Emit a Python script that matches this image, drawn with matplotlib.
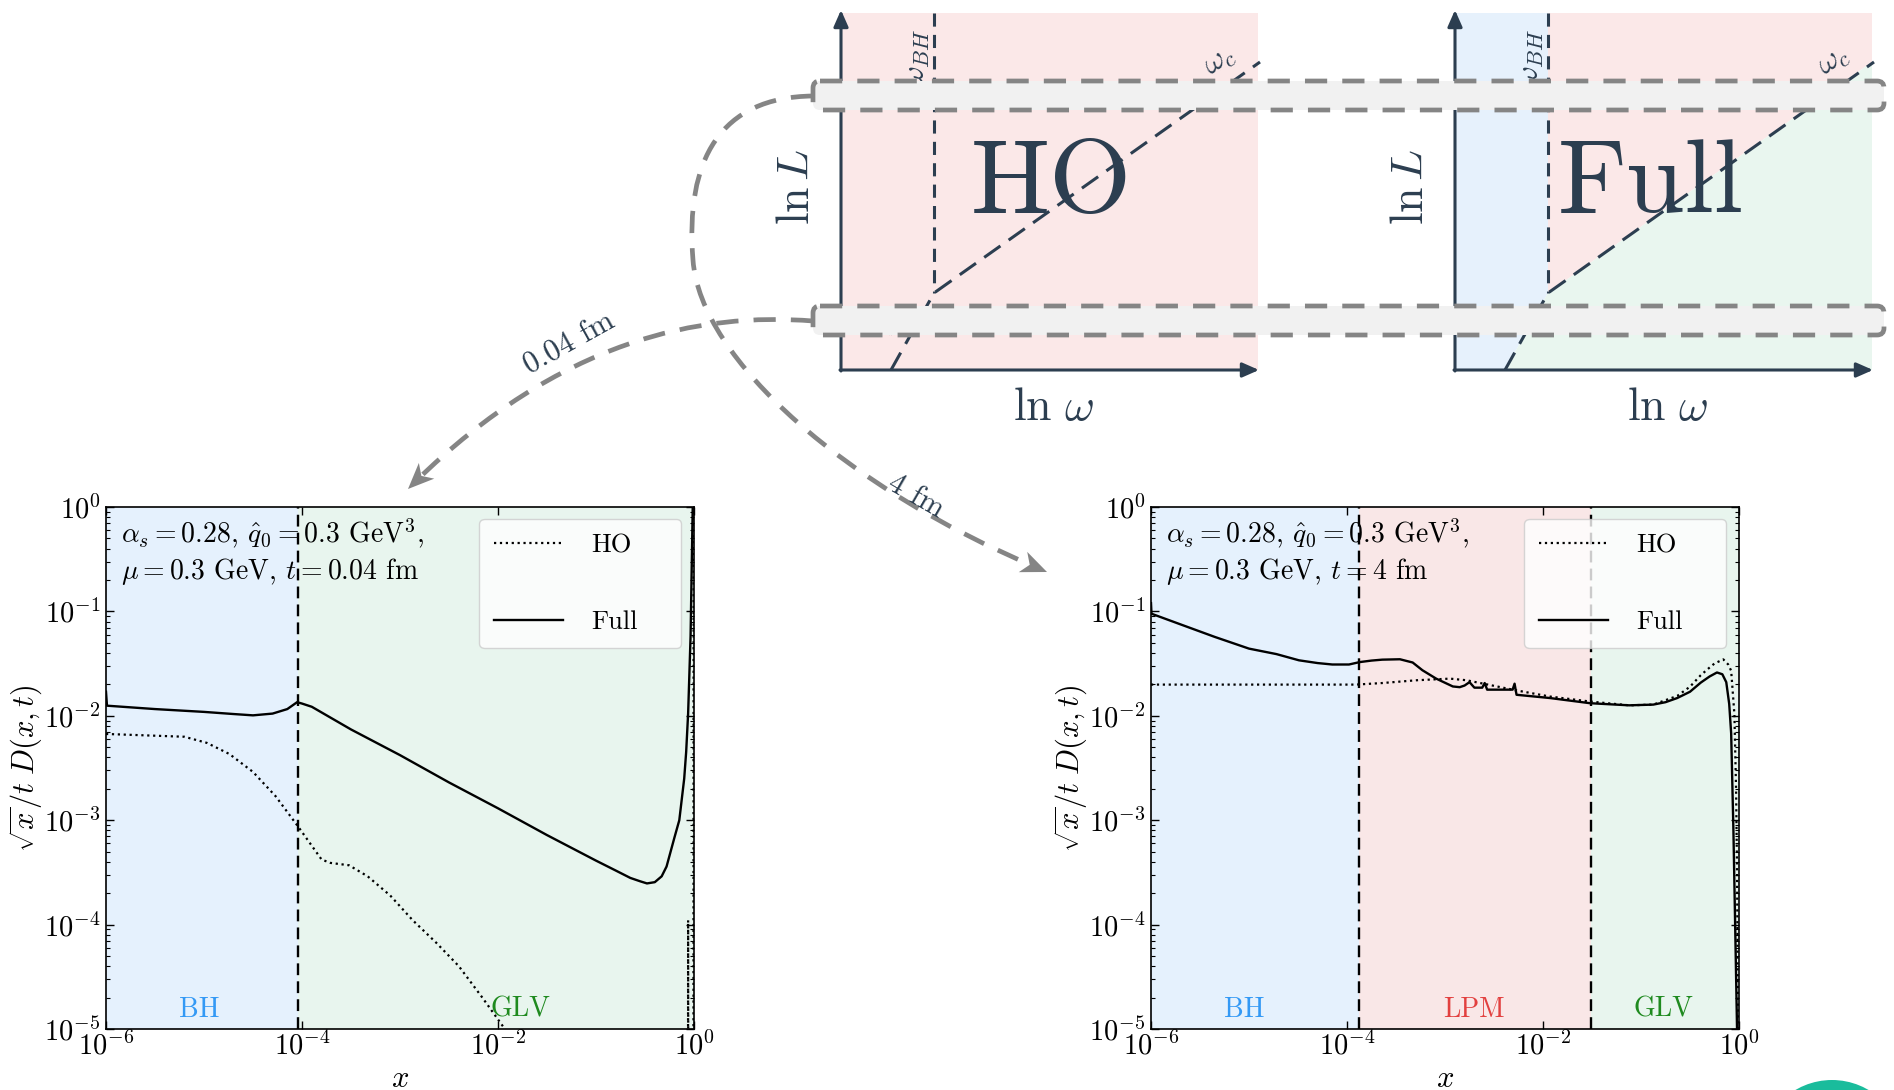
import numpy as np
import matplotlib
matplotlib.use("Agg")
import matplotlib.pyplot as plt
from matplotlib.patches import FancyBboxPatch, Polygon, PathPatch, Circle
from matplotlib.path import Path
from matplotlib.ticker import FixedLocator, LogLocator, FuncFormatter, NullLocator, NullFormatter

plt.rcParams["font.family"] = "serif"
plt.rcParams["font.serif"] = ["cmr10"]
plt.rcParams["mathtext.fontset"] = "cm"
plt.rcParams["axes.formatter.use_mathtext"] = True
plt.rcParams["axes.unicode_minus"] = False

# ---- spectra, log10(x) and sqrt(x)/t D(x,t) ----
# t = 0.04 fm
lx_full_short = [-6.0, -5.99, -5.5, -5.0, -4.7, -4.5, -4.3, -4.15, -4.05, -4.0, -3.9, -3.5, -3.0,
                 -2.5, -2.0, -1.5, -1.0, -0.8, -0.65, -0.55, -0.48, -0.4, -0.33, -0.28, -0.2,
                 -0.15, -0.1, -0.08, -0.06, -0.035, -0.01]
full_short = [0.017, 0.0125, 0.0116, 0.0109, 0.0104, 0.0101, 0.0105, 0.0116, 0.0135, 0.0131, 0.0122,
              0.0074, 0.0042, 0.0023, 0.0013, 0.00072, 0.00041, 0.00033, 0.00028, 0.00026, 0.000248,
              0.000255, 0.00029, 0.00036, 0.00068, 0.001, 0.0025, 0.0045, 0.0105, 0.058, 1.5]
lx_ho_short = [-6.0, -5.2, -4.97, -4.74, -4.5, -4.27, -4.04, -3.8, -3.71, -3.52, -3.33, -3.1, -2.87,
               -2.63, -2.4, -2.16, -1.93, -1.5, -0.5, -0.062, -0.06, -0.058, -0.006, -0.004]
ho_short = [6.7e-3, 6.3e-3, 5.5e-3, 4.3e-3, 2.9e-3, 1.7e-3, 8.7e-4, 4.2e-4, 3.9e-4, 3.7e-4, 2.9e-4,
            1.9e-4, 1.1e-4, 6.7e-5, 4.0e-5, 2.0e-5, 1.0e-5, 1e-6, 1e-7, 1e-7, 1.1e-4, 1e-7, 1e-7, 1.0]

# t = 4 fm
lx_full_long = [-6.0, -5.995, -5.68, -5.35, -5.0, -4.72, -4.49, -4.3, -4.15, -3.98, -3.87, -3.75,
                -3.64, -3.46, -3.33, -3.23, -3.09, -2.92, -2.85, -2.80, -2.75, -2.70, -2.62, -2.595,
                -2.57, -2.54, -2.31, -2.29, -2.27, -1.93, -1.52, -1.12, -0.875, -0.75, -0.63, -0.5,
                -0.39, -0.3, -0.225, -0.17, -0.13, -0.10, -0.08, -0.057, -0.035, -0.02, -0.005]
full_long = [0.12, 0.095, 0.074, 0.057, 0.044, 0.039, 0.034, 0.032, 0.031, 0.031, 0.0327, 0.0338,
             0.0345, 0.0348, 0.0324, 0.0273, 0.0227, 0.0191, 0.0188, 0.0195, 0.021, 0.0186, 0.0186,
             0.0206, 0.0178, 0.0178, 0.0178, 0.0203, 0.0159, 0.0148, 0.0132, 0.0126, 0.0128, 0.0135,
             0.0148, 0.017, 0.0208, 0.0238, 0.026, 0.025, 0.021, 0.013, 0.0068, 8e-4, 6e-5, 1e-5, 1e-6]
lx_ho_long = [-6.0, -3.91, -3.64, -3.29, -2.95, -2.78, -2.27, -1.93, -1.52, -1.12, -0.875, -0.63,
              -0.5, -0.39, -0.3, -0.25, -0.16, -0.11, -0.08, -0.047, -0.03, -0.02, -0.01, -0.002]
ho_long = [0.0199, 0.0199, 0.0206, 0.0219, 0.0227, 0.0219, 0.0175, 0.0153, 0.0137, 0.0126, 0.0128,
           0.0155, 0.019, 0.0245, 0.029, 0.0317, 0.0347, 0.031, 0.027, 0.0104, 2e-3, 3.4e-4, 1e-5, 1e-6]

# regime boundaries in x
bounds_short = [9.0e-5]
bounds_long = [1.34e-4, 0.0309]

x_ticks = [1e-6, 1e-4, 1e-2, 1.0]

BLUE_BG, PINK_BG, GREEN_BG = "#e5f1fd", "#f9e7e7", "#e8f5ee"
NAVY = "#2c3e50"
GRAY = "#858585"

W, H = 1894, 1090
fig = plt.figure(figsize=(W / 100, H / 100), dpi=100)
fig.patch.set_facecolor("white")

# overlay in pixel coordinates for the sketches, bands and arrows
ov = fig.add_axes([0, 0, 1, 1])
ov.set_xlim(0, W)
ov.set_ylim(H, 0)
ov.axis("off")

# sketch geometry (pixels)
D_TOP, D_BOT, D_W = 13, 370, 417
D_LEFT = [841, 1455]
BH_OFF, FOOT_OFF, KINK_Y, CORNER_Y = 93, 50, 293, 62


def sketch(x0, title, full):
    xr = x0 + D_W
    xbh = x0 + BH_OFF
    if not full:
        ov.add_patch(Polygon([(x0, D_TOP), (xr, D_TOP), (xr, D_BOT), (x0, D_BOT)],
                             fc="#fbe8e8", ec="none", zorder=1))
    else:
        ov.add_patch(Polygon([(x0, D_TOP), (xbh, D_TOP), (xbh, KINK_Y), (x0 + FOOT_OFF, D_BOT), (x0, D_BOT)],
                             fc="#e6f1fc", ec="none", zorder=1))
        ov.add_patch(Polygon([(xbh, D_TOP), (xr, D_TOP), (xr, CORNER_Y), (xbh, KINK_Y)],
                             fc="#fbe8e8", ec="none", zorder=1))
        ov.add_patch(Polygon([(x0 + FOOT_OFF, D_BOT), (xbh, KINK_Y), (xr, CORNER_Y), (xr, D_BOT)],
                             fc="#e9f6ef", ec="none", zorder=1))
    ov.plot([xbh, xbh], [D_TOP, KINK_Y], color=NAVY, lw=2.2, ls=(0, (4.3, 2.7)), zorder=2)
    ov.plot([x0 + FOOT_OFF, xbh, xr + 2], [D_BOT, KINK_Y, CORNER_Y], color=NAVY, lw=2.2,
            ls=(0, (6.5, 3.3)), zorder=2)
    arr = dict(arrowstyle="-|>,head_length=0.5,head_width=0.22", color=NAVY, lw=2.2,
               shrinkA=0, shrinkB=0, mutation_scale=20)
    ov.annotate("", xy=(x0, D_TOP - 3), xytext=(x0, D_BOT + 1), arrowprops=arr, zorder=3)
    ov.annotate("", xy=(xr + 1, D_BOT), xytext=(x0 - 1, D_BOT), arrowprops=arr, zorder=3)
    ov.text(x0 + D_W / 2 + 4, 408, r"$\ln\,\omega$", fontsize=33, color=NAVY, ha="center", va="center", zorder=3)
    ov.text(x0 - 44, 187, r"$\ln L$", fontsize=33, color=NAVY, rotation=90, ha="center", va="center", zorder=3)
    ov.text(x0 + 210 - (14 if full else 0), 186, title, fontsize=76, color=NAVY, ha="center", va="center", zorder=3)
    ov.text(xbh - 16, 58, r"$\omega_{BH}$", fontsize=23, color=NAVY, rotation=90, ha="center", va="center", zorder=3)
    ov.text(xr - 38, 62, r"$\omega_c$", fontsize=23, color=NAVY, rotation=35, ha="center", va="center", zorder=3)
    ov.text(x0 + 50, 324, r"$\omega$", fontsize=22, color=NAVY, rotation=60, ha="center", va="center", zorder=3)


sketch(D_LEFT[0], "HO", False)
sketch(D_LEFT[1], "Full", True)

# length bands crossing both sketches
for y_top in [81, 306]:
    ov.add_patch(FancyBboxPatch((813, y_top), 1884 - 813, 29, boxstyle="round,pad=0,rounding_size=7",
                                fc="#f1f1f1", ec=GRAY, lw=3.4, ls=(0, (4.7, 3.2)), zorder=5))


def arrow_head(tip, back, length=26, width=22):
    tip = np.asarray(tip, float)
    d = tip - np.asarray(back, float)
    d /= np.hypot(*d)
    n = np.array([-d[1], d[0]])
    base = tip - d * length
    notch = tip - d * length * 0.72
    ov.add_patch(Polygon([tip, base + n * width / 2, notch, base - n * width / 2],
                         fc=GRAY, ec="none", zorder=7))


path_short = Path([(813, 321), (700, 312), (560, 340), (415, 482)],
                  [Path.MOVETO, Path.CURVE4, Path.CURVE4, Path.CURVE4])
ov.add_patch(PathPatch(path_short, fill=False, ec=GRAY, lw=3.4, ls=(0, (4.7, 3.2)), zorder=6, capstyle="butt"))
arrow_head((408, 489), (560, 340))

path_long = Path([(813, 96), (720, 97), (685, 160), (693, 260), (700, 360), (850, 490), (1036, 567)],
                 [Path.MOVETO, Path.CURVE4, Path.CURVE4, Path.CURVE4, Path.CURVE4, Path.CURVE4, Path.CURVE4])
ov.add_patch(PathPatch(path_long, fill=False, ec=GRAY, lw=3.4, ls=(0, (4.7, 3.2)), zorder=6, capstyle="butt"))
arrow_head((1047, 572), (850, 490))

ov.text(569, 344, "0.04 fm", fontsize=22, color=NAVY, rotation=29, ha="center", va="center", zorder=7)
ov.text(916, 496, "4 fm", fontsize=22, color=NAVY, rotation=-30, ha="center", va="center", zorder=7)

ov.add_patch(Circle((1832, 1152), 72, fc="#1abc9c", ec="none", zorder=1))


def panel(rect, lx_full, full, lx_ho, ho, bounds, regions, labels, t_text):
    ax = fig.add_axes(rect)
    ax.set_xscale("log")
    ax.set_yscale("log")
    edges = [1e-6] + bounds + [1.0]
    for i, color in enumerate(regions):
        ax.axvspan(edges[i], edges[i + 1], color=color, lw=0, zorder=0)
    for b in bounds:
        ax.axvline(b, color="k", ls=(0, (5, 2.6)), lw=1.7, zorder=3)
    ax.plot(10 ** np.array(lx_ho), ho, color="k", ls=":", lw=1.6, label="HO", zorder=4)
    ax.plot(10 ** np.array(lx_full), full, color="k", ls="-", lw=1.7, label="Full", zorder=4)
    ax.set_xlim(1e-6, 1)
    ax.set_ylim(1e-5, 1)

    ax.xaxis.set_major_locator(FixedLocator(x_ticks))
    ax.xaxis.set_minor_locator(NullLocator())
    ax.yaxis.set_major_locator(LogLocator(base=10, numticks=10))
    ax.yaxis.set_minor_locator(LogLocator(base=10, subs=np.arange(2, 10), numticks=10))
    ax.yaxis.set_minor_formatter(NullFormatter())
    fmt = FuncFormatter(lambda v, p: r"$10^{%d}$" % round(np.log10(v)))
    ax.xaxis.set_major_formatter(fmt)
    ax.yaxis.set_major_formatter(fmt)
    ax.tick_params(which="both", direction="in", top=True, right=True, labelsize=20.5)
    ax.tick_params(which="major", length=6, width=1.0)
    ax.tick_params(which="minor", length=3, width=0.8)
    ax.tick_params(axis="x", pad=2)
    ax.tick_params(axis="y", pad=4)
    for s in ax.spines.values():
        s.set_linewidth(1.2)

    ax.set_ylabel(r"$\sqrt{x}/t\; D(x,t)$", fontsize=22)
    ax.yaxis.set_label_coords(-0.104, 0.5)
    ax.set_xlabel(r"$x$", fontsize=22)
    ax.xaxis.set_label_coords(0.5, -0.07)

    ax.text(0.025, 0.95, r"$\alpha_s = 0.28$, $\hat{q}_0 = 0.3$ GeV$^3$,", transform=ax.transAxes,
            fontsize=20, va="center", ha="left", zorder=2)
    ax.text(0.025, 0.876, r"$\mu = 0.3$ GeV, $t = %s$ fm" % t_text, transform=ax.transAxes,
            fontsize=20, va="center", ha="left", zorder=2)
    for name, xf, color in labels:
        ax.text(xf, 0.037, name, transform=ax.transAxes, fontsize=20, color=color,
                ha="center", va="center", zorder=2)

    leg = ax.legend(loc="upper left", bbox_to_anchor=(0.635, 0.745, 0.343, 0.232), mode="expand",
                    fontsize=19, labelspacing=2.0, handlelength=2.6, handletextpad=1.1,
                    borderpad=0.55, borderaxespad=0.0, framealpha=0.8,
                    edgecolor="#cccccc", fancybox=True)
    leg.set_zorder(5)
    return ax


BH_C, LPM_C, GLV_C = "#3399f5", "#e2403f", "#1f8a1f"
panel([106 / W, 61 / H, 588 / W, 522 / H], lx_full_short, full_short, lx_ho_short, ho_short,
      bounds_short, [BLUE_BG, GREEN_BG], [("BH", 0.159, BH_C), ("GLV", 0.705, GLV_C)], "0.04")
panel([1151 / W, 61 / H, 588 / W, 522 / H], lx_full_long, full_long, lx_ho_long, ho_long,
      bounds_long, [BLUE_BG, PINK_BG, GREEN_BG],
      [("BH", 0.159, BH_C), ("LPM", 0.55, LPM_C), ("GLV", 0.872, GLV_C)], "4")

fig.savefig("out.png", dpi=100, facecolor="white")
